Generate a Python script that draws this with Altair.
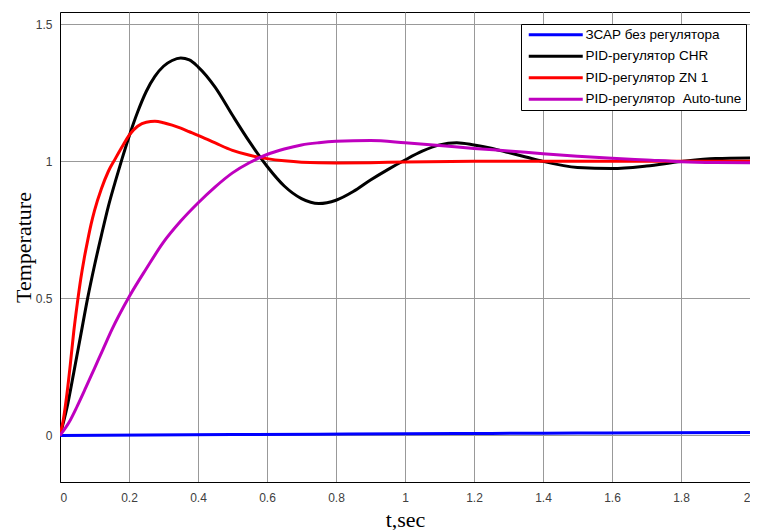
import altair as alt
import pandas as pd

series_names = ["ЗСАР без регулятора", "PID-регулятор CHR", "PID-регулятор ZN 1", "PID-регулятор\u00a0 Auto-tune"]
series_colors = ["#0000ff", "#000000", "#ff0000", "#bf00bf"]

t_blue = [0, 0.25, 0.5, 0.75, 1.0, 1.25, 1.5, 1.75, 2.0]
v_blue = [0, 0.0015, 0.003, 0.0045, 0.006, 0.0072, 0.0085, 0.0098, 0.011]

t_chr = [0, 0.02, 0.04, 0.06, 0.08, 0.1, 0.12, 0.14, 0.16, 0.18, 0.2, 0.225, 0.25, 0.275, 0.3, 0.325,
         0.35, 0.375, 0.4, 0.45, 0.5, 0.55, 0.6, 0.65, 0.7, 0.75, 0.8, 0.85, 0.9, 0.95, 1.0, 1.05, 1.1,
         1.15, 1.2, 1.25, 1.3, 1.35, 1.4, 1.5, 1.6, 1.7, 1.8, 1.9, 2.0]
v_chr = [0, 0.1, 0.23, 0.365, 0.5, 0.62, 0.73, 0.835, 0.925, 1.01, 1.09, 1.18, 1.255, 1.31, 1.347, 1.368,
         1.377, 1.37, 1.345, 1.27, 1.168, 1.07, 0.982, 0.91, 0.864, 0.846, 0.858, 0.89, 0.932, 0.97, 1.005,
         1.037, 1.06, 1.068, 1.06, 1.048, 1.032, 1.016, 1.0, 0.978, 0.974, 0.983, 0.999, 1.01, 1.012]

t_zn = [0, 0.01, 0.02, 0.03, 0.04, 0.05, 0.06, 0.07, 0.08, 0.09, 0.1, 0.12, 0.14, 0.16, 0.18, 0.2,
        0.225, 0.25, 0.275, 0.3, 0.325, 0.35, 0.375, 0.4, 0.45, 0.5, 0.55, 0.6, 0.65, 0.7, 0.8, 0.9, 1.0,
        1.2, 1.4, 1.6, 1.8, 2.0]
v_zn = [0, 0.06, 0.15, 0.26, 0.38, 0.48, 0.57, 0.645, 0.71, 0.77, 0.82, 0.9, 0.963, 1.009, 1.053, 1.095,
        1.128, 1.143, 1.146, 1.141, 1.132, 1.121, 1.108, 1.095, 1.067, 1.04, 1.022, 1.01, 1.002, 0.997,
        0.994, 0.995, 0.998, 1.0, 1.0, 1.0, 1.0, 1.0]

t_at = [0, 0.025, 0.05, 0.075, 0.1, 0.125, 0.15, 0.2, 0.25, 0.3, 0.35, 0.4, 0.45, 0.5, 0.55, 0.6, 0.65,
        0.7, 0.75, 0.8, 0.9, 1.0, 1.1, 1.2, 1.3, 1.4, 1.5, 1.6, 1.7, 1.8, 1.9, 2.0]
v_at = [0, 0.045, 0.107, 0.175, 0.245, 0.315, 0.385, 0.505, 0.608, 0.705, 0.782, 0.848, 0.907, 0.958,
        0.996, 1.025, 1.045, 1.06, 1.068, 1.073, 1.076, 1.068, 1.058, 1.047, 1.038, 1.028, 1.019, 1.011,
        1.005, 0.999, 0.996, 0.995]

x_ticks = [0, 0.2, 0.4, 0.6, 0.8, 1, 1.2, 1.4, 1.6, 1.8, 2]
y_ticks = [0, 0.5, 1, 1.5]

frames = []
for i, (tt, vv) in enumerate([(t_blue, v_blue), (t_chr, v_chr), (t_zn, v_zn), (t_at, v_at)]):
    frames.append(pd.DataFrame({"t": tt, "v": vv, "series": series_names[i], "order": i}))
df = pd.concat(frames, ignore_index=True)

chart = alt.Chart(df).mark_line(strokeWidth=3, clip=True, interpolate="monotone").encode(
    x=alt.X("t:Q", scale=alt.Scale(domain=[0, 2], nice=False, zero=False),
            axis=alt.Axis(values=x_ticks, title="t,sec", labelExpr="format(datum.value, '~g')",
                          titleY=44, titleBaseline="alphabetic")),
    y=alt.Y("v:Q", scale=alt.Scale(domain=[-0.17, 1.545], nice=False, zero=False),
            axis=alt.Axis(values=y_ticks, title="Temperature", labelExpr="format(datum.value, '~g')",
                          titleX=-37, titleY=235, titleAngle=270, titleBaseline="middle", titleAlign="center")),
    color=alt.Color("series:N", scale=alt.Scale(domain=series_names, range=series_colors),
                    legend=alt.Legend(title=None, orient="none", legendX=461, legendY=12,
                                      symbolType="M-1,0H17", symbolSize=36, symbolStrokeWidth=3,
                                      labelOffset=47,
                                      labelFont="Liberation Sans", labelFontSize=13.5, labelColor="#000",
                                      fillColor="white", strokeColor="#000", padding=4,
                                      labelLimit=300, rowPadding=6.5)),
    order="order:O",
    detail="series:N",
).properties(
    width=690, height=470,
    autosize=alt.AutoSizeParams(type="none"),
    padding={"left": 52, "top": 4, "right": 0, "bottom": 48},
).configure_view(
    stroke="#000", strokeWidth=1
).configure_axis(
    grid=True, gridColor="#999", gridOpacity=1, gridWidth=1,
    ticks=False, domain=True, domainColor="#000",
    labelFont="Liberation Sans", labelFontSize=12, labelColor="#404040",
    titleFont="Liberation Serif", titleFontSize=22, titleFontWeight="normal", titleColor="#000",
).configure_axisX(labelPadding=10).configure_axisY(labelPadding=8)

chart.save("out.html", embed_options={"renderer": "svg", "actions": False})
